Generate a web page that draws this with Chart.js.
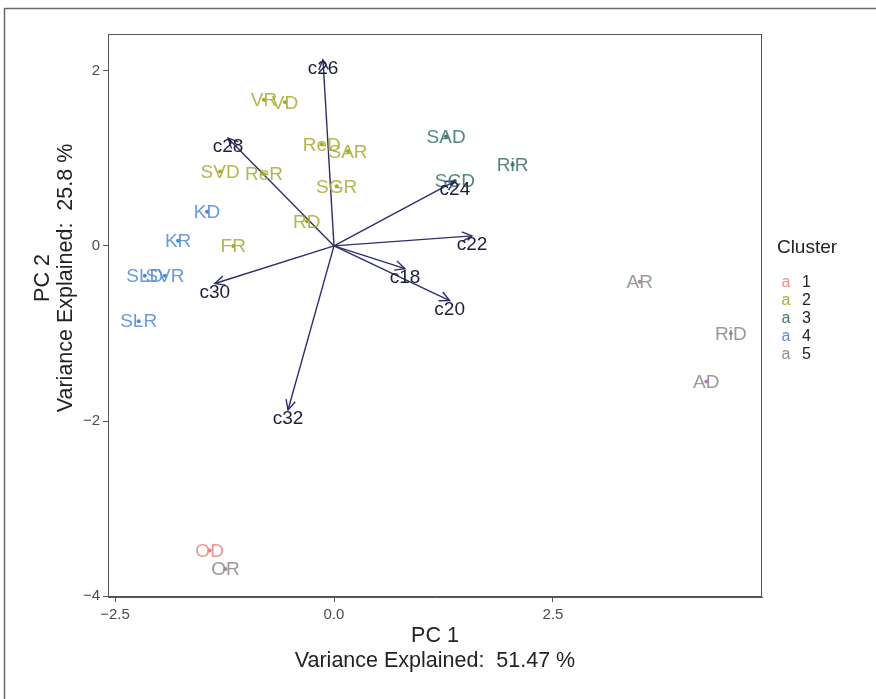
<!DOCTYPE html>
<html><head><meta charset="utf-8">
<script src="https://cdn.jsdelivr.net/npm/chart.js@4/dist/chart.umd.min.js"></script>
<style>html,body{margin:0;padding:0;background:#fff}#wrap{position:relative;width:876px;height:699px}</style>
</head><body><div id="wrap"><canvas id="c" width="876" height="699"></canvas></div>
<script>
// ---- data ----
const sampleLabels = ['VR','VD','ReD','SAR','SVD','ReR','SGR','RD','FR','KD','KR','SLD','SVR','SLR','SAD','RiR','SCD','AR','RiD','AD','OD','OR'];
const samplePC1 = [-0.80,-0.56,-0.14,0.16,-1.30,-0.80,0.03,-0.31,-1.15,-1.45,-1.78,-2.16,-1.93,-2.23,1.28,2.04,1.38,3.49,4.53,4.25,-1.42,-1.24];
const samplePC2 = [1.67,1.64,1.16,1.08,0.85,0.82,0.68,0.28,0.00,0.39,0.06,-0.34,-0.34,-0.86,1.25,0.93,0.74,-0.41,-1.00,-1.55,-3.48,-3.69];
const sampleCluster = [2,2,2,2,2,2,2,2,2,4,4,4,4,4,3,3,3,5,5,5,1,5];
const clusterIds = [1,2,3,4,5];
const varNames = ['c18','c20','c22','c24','c26','c28','c30','c32'];
const varPC1 = [0.81,1.32,1.575,1.38,-0.126,-1.21,-1.36,-0.525];
const varPC2 = [-0.26,-0.625,0.114,0.74,2.125,1.23,-0.43,-1.875];
const xTicks = [-2.5,0,2.5];
const yTicks = [-4,-2,0,2];
const xTitle = ['PC 1','Variance Explained:  51.47 %'];
const yTitle = ['PC 2','Variance Explained:  25.8 %'];
const legendTitle = 'Cluster';

// ---- styles ----
const clusterColors = {1:'#ec8c8c',2:'#aaae3c',3:'#42796f',4:'#5a8fd6',5:'#8e8e8e'};
const pointColors = {1:'#e77a7a',2:'#a2a830',3:'#3f7a6c',4:'#4f88d8',5:'#c07ab4'};
const arrowColor = '#2e2e6a';
const varTextColor = '#1e1e3c';
const FONT = '"Liberation Sans", Arial, Helvetica, sans-serif';
const fmtTick = (v,d) => (v<0?'\u2212':'') + Math.abs(v).toFixed(d);

const datasets = [];
varNames.forEach((n,i)=>{
  datasets.push({label:n, data:[{x:0,y:0},{x:varPC1[i],y:varPC2[i]}], showLine:true,
    borderColor:arrowColor, borderWidth:1.4, pointRadius:0, fill:false, order:2});
});
clusterIds.forEach(c=>{
  const pts = [];
  sampleLabels.forEach((l,i)=>{ if(sampleCluster[i]===c) pts.push({x:samplePC1[i],y:samplePC2[i]}); });
  datasets.push({label:'Cluster '+c, data:pts, showLine:false, pointRadius:2, pointBorderWidth:0,
    backgroundColor:pointColors[c], borderColor:pointColors[c], order:1});
});

const decor = {
  id:'decor',
  beforeDraw(chart){
    const ctx = chart.ctx;
    ctx.save();
    ctx.fillStyle='#fff'; ctx.fillRect(0,0,chart.width,chart.height);
    ctx.strokeStyle='#6a6a6a'; ctx.lineWidth=1.5;
    ctx.beginPath(); ctx.moveTo(4.5,chart.height+2); ctx.lineTo(4.5,8.5); ctx.lineTo(chart.width+2,8.5); ctx.stroke();
    ctx.restore();
  },
  afterDatasetsDraw(chart){
    const ctx = chart.ctx, xs = chart.scales.x, ys = chart.scales.y, a = chart.chartArea;
    ctx.save();
    // panel border
    ctx.strokeStyle='#555'; ctx.lineWidth=1;
    ctx.strokeRect(a.left+0.5, a.top+0.5, a.right-a.left-1, a.bottom-a.top-1);
    // arrow heads
    ctx.strokeStyle=arrowColor; ctx.lineWidth=1.4;
    varNames.forEach((n,i)=>{
      const x0=xs.getPixelForValue(0), y0=ys.getPixelForValue(0);
      const x1=xs.getPixelForValue(varPC1[i]), y1=ys.getPixelForValue(varPC2[i]);
      const ang=Math.atan2(y1-y0,x1-x0), L=11, h=Math.PI/7;
      ctx.beginPath();
      ctx.moveTo(x1-L*Math.cos(ang-h), y1-L*Math.sin(ang-h));
      ctx.lineTo(x1,y1);
      ctx.lineTo(x1-L*Math.cos(ang+h), y1-L*Math.sin(ang+h));
      ctx.stroke();
    });
    // sample labels
    ctx.font = '19px '+FONT; ctx.textAlign='center'; ctx.textBaseline='middle';
    sampleLabels.forEach((l,i)=>{
      ctx.fillStyle = clusterColors[sampleCluster[i]];
      ctx.globalAlpha = 0.9;
      ctx.fillText(l, xs.getPixelForValue(samplePC1[i]), ys.getPixelForValue(samplePC2[i])+1);
    });
    ctx.globalAlpha = 1;
    // variable labels
    ctx.fillStyle = varTextColor;
    varNames.forEach((n,i)=>{
      ctx.fillText(n, xs.getPixelForValue(varPC1[i]), ys.getPixelForValue(varPC2[i])+9);
    });
    // axis titles
    ctx.fillStyle='#222'; ctx.font='21.5px '+FONT;
    const cx=(a.left+a.right)/2;
    ctx.fillText(xTitle[0], cx, 636);
    ctx.fillText(xTitle[1], cx, 661);
    const cy = 278;
    ctx.save(); ctx.translate(43,cy); ctx.rotate(-Math.PI/2); ctx.fillText(yTitle[0],0,0); ctx.restore();
    ctx.save(); ctx.translate(66,cy); ctx.rotate(-Math.PI/2); ctx.fillText(yTitle[1],0,0); ctx.restore();
    // legend
    ctx.fillStyle='#222'; ctx.font='19px '+FONT; ctx.textAlign='center';
    ctx.fillText(legendTitle, 807, 248);
    clusterIds.forEach((c,k)=>{
      const y = 283 + k*18;
      ctx.font='16px '+FONT; ctx.textAlign='center';
      ctx.fillStyle = clusterColors[c]; ctx.fillText('a', 786, y);
      ctx.fillStyle = '#222'; ctx.textAlign='left'; ctx.fillText(String(c), 802, y);
    });
    ctx.restore();
  }
};

new Chart(document.getElementById('c'), {
  type:'scatter',
  data:{datasets},
  options:{
    responsive:false, animation:false, devicePixelRatio:1,
    layout:{padding:{left:0,top:34,right:114,bottom:0}},
    plugins:{legend:{display:false}, tooltip:{enabled:false}},
    scales:{
      x:{type:'linear', min:-2.58, max:4.886,
        afterBuildTicks:s=>{s.ticks = xTicks.map(v=>({value:v}));},
        afterFit:s=>{s.height=102;},
        ticks:{callback:v=>fmtTick(v,1), color:'#4d4d4d', font:{size:15,family:FONT}, padding:4, maxRotation:0, autoSkip:false},
        grid:{display:true, drawOnChartArea:false, drawTicks:true, tickLength:5, color:'#555'},
        border:{display:true, color:'#555', width:1}},
      y:{type:'linear', min:-4.01, max:2.42,
        afterBuildTicks:s=>{s.ticks = yTicks.map(v=>({value:v}));},
        afterFit:s=>{s.width=108;},
        ticks:{callback:v=>fmtTick(v,0), color:'#4d4d4d', font:{size:15,family:FONT}, padding:3, autoSkip:false},
        grid:{display:true, drawOnChartArea:false, drawTicks:true, tickLength:5, color:'#555'},
        border:{display:true, color:'#555', width:1}}
    }
  },
  plugins:[decor]
});
</script></body></html>
